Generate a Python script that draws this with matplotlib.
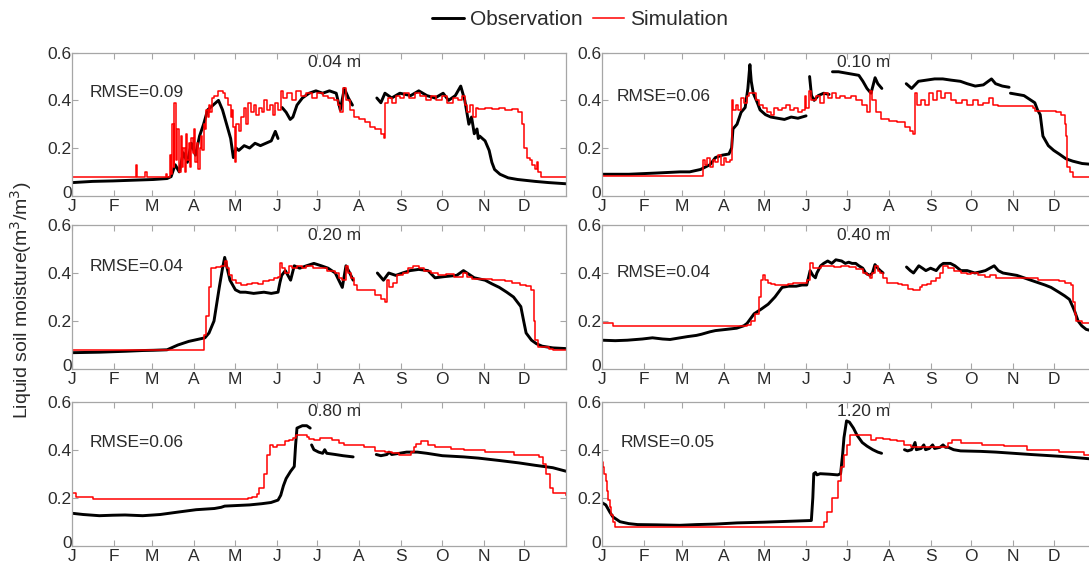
import numpy as np
import matplotlib.pyplot as plt
from matplotlib.transforms import ScaledTranslation

plt.rcParams['font.family'] = ['Liberation Sans', 'DejaVu Sans']

nan = np.nan

# x axis: day of year, ticks at month starts
month_starts = [0, 31, 59, 90, 120, 151, 181, 212, 243, 273, 304, 334]
month_labels = ['J', 'F', 'M', 'A', 'M', 'J', 'J', 'A', 'S', 'O', 'N', 'D']

depths = ['0.04 m', '0.10 m', '0.20 m', '0.40 m', '0.80 m', '1.20 m']
rmse = [0.09, 0.06, 0.04, 0.04, 0.06, 0.05]

# ---- 0.04 m ----
obs1_day = [0, 15, 30, 45, 60, 70, 73, 76, 79, 82, 85, 88, 91, 94, 97, 100, 104, 108, 111, 114,
            117, 119, 121, 123, 127, 131, 135, 139, 143, 147, 150, 152, 153,
            155, 158, 161, 163, 166, 170, 175, 180, 185, 190, 195, 198, 201, 204, 207, 208,
            225, 228, 231, 236, 242, 250, 256, 262, 268, 274, 278, 283, 287, 290, 293, 295,
            297, 299, 300, 301, 305, 308, 310, 312, 316, 322, 329, 342, 352, 365]
obs1_val = [0.055, 0.06, 0.062, 0.065, 0.068, 0.072, 0.08, 0.13, 0.1, 0.18, 0.14, 0.22, 0.17,
            0.25, 0.3, 0.36, 0.38, 0.40, 0.36, 0.3, 0.24, 0.16, 0.2, 0.19, 0.21, 0.2, 0.22, 0.21,
            0.22, 0.23, 0.27, 0.24, nan,
            0.37, 0.35, 0.32, 0.33, 0.38, 0.41, 0.43, 0.44, 0.43, 0.44, 0.43, 0.36, 0.45, 0.41,
            0.38, nan,
            0.41, 0.39, 0.43, 0.41, 0.43, 0.42, 0.44, 0.42, 0.41, 0.43, 0.40, 0.42, 0.46, 0.40,
            0.30, 0.33, 0.26, 0.28, 0.24, 0.25, 0.23, 0.19, 0.14, 0.11, 0.09, 0.075, 0.068,
            0.06, 0.055, 0.05]
sim1_day = [0, 47, 47.5, 54, 55, 69, 70, 72, 73, 74, 75, 75.5, 76.5, 77.5, 78.5, 80, 81, 82, 83,
            84, 85, 86, 87, 88, 89, 90, 91, 92, 93, 94, 95, 96, 97, 98, 99, 100, 101, 102, 103,
            105, 108, 111, 113, 115, 117, 118, 119, 120, 121, 123, 125, 127, 128, 130, 132, 134,
            136, 138, 140, 142, 144, 146, 148, 150, 152, 154, 156, 159, 162, 165, 169, 173, 177,
            181, 185, 189, 193, 196, 198, 200, 202, 205, 208, 212, 216, 220, 224, 228, 230, 231,
            233, 236, 239, 242, 245, 249, 253, 257, 261, 265, 269, 273, 277, 281, 285, 288, 290,
            292, 294, 296, 298, 300, 305, 310, 315, 320, 325, 329, 332, 334, 336, 338, 340, 342,
            343, 344, 346, 365]
sim1_val = [0.08, 0.13, 0.08, 0.1, 0.08, 0.09, 0.08, 0.17, 0.09, 0.3, 0.12, 0.39, 0.15, 0.28,
            0.1, 0.25, 0.12, 0.2, 0.1, 0.26, 0.15, 0.22, 0.12, 0.24, 0.18, 0.28, 0.14, 0.22,
            0.11, 0.2, 0.25, 0.19, 0.3, 0.28, 0.36, 0.33, 0.38, 0.35, 0.41, 0.42, 0.44, 0.43,
            0.41, 0.38, 0.33, 0.36, 0.29, 0.14, 0.3, 0.27, 0.33, 0.37, 0.3, 0.39, 0.35, 0.38,
            0.34, 0.37, 0.35, 0.4, 0.36, 0.38, 0.34, 0.39, 0.36, 0.44, 0.41, 0.43, 0.40, 0.44,
            0.42, 0.43, 0.41, 0.43, 0.42, 0.41, 0.40, 0.38, 0.35, 0.45, 0.40, 0.36, 0.33, 0.32,
            0.31, 0.29, 0.28, 0.26, 0.24, 0.39, 0.41, 0.39, 0.42, 0.41, 0.43, 0.41, 0.43, 0.42,
            0.40, 0.42, 0.40, 0.42, 0.39, 0.41, 0.40, 0.42, 0.38, 0.35, 0.38, 0.33, 0.37, 0.365,
            0.37, 0.365, 0.37, 0.36, 0.365, 0.35, 0.3, 0.2, 0.16, 0.15, 0.13, 0.11, 0.14, 0.1,
            0.08, 0.08]

# ---- 0.10 m ----
obs2_day = [0, 20, 40, 58, 65, 73, 80, 84, 89, 94, 96, 97, 100, 103, 106, 108, 109.5, 110.5,
            112, 115, 117, 121, 125, 130, 135, 140, 145, 151, 152,
            153.6, 155, 157, 160, 164, 168, 169.5,
            170.5, 175, 180, 185, 190, 193, 196, 199, 202, 204, 207, 210,
            225, 229, 234, 240, 246, 252, 258, 265, 270, 276, 282, 288, 291, 296, 301, 301.5,
            302, 307, 312, 316, 320, 322, 324, 326, 330, 334, 338, 343, 348, 355, 365]
obs2_val = [0.09, 0.09, 0.095, 0.1, 0.1, 0.11, 0.13, 0.16, 0.17, 0.175, 0.2, 0.28, 0.3, 0.35,
            0.37, 0.45, 0.55, 0.48, 0.43, 0.39, 0.36, 0.34, 0.33, 0.325, 0.32, 0.33, 0.325,
            0.335, nan,
            0.5, 0.42, 0.40, 0.42, 0.43, 0.425, nan,
            0.52, 0.52, 0.515, 0.51, 0.505, 0.48, 0.45, 0.43, 0.495, 0.47, 0.45, nan,
            0.47, 0.45, 0.48, 0.485, 0.49, 0.49, 0.485, 0.48, 0.47, 0.46, 0.465, 0.49, 0.47,
            0.46, 0.455, nan,
            0.43, 0.425, 0.42, 0.405, 0.39, 0.36, 0.34, 0.25, 0.21, 0.19, 0.175, 0.155, 0.145,
            0.135, 0.13]
sim2_day = [0, 74.5, 76, 78, 80, 82, 84, 86, 88, 90, 92, 95, 96, 97, 99, 101, 103, 105, 107,
            109, 112, 114, 116, 119, 122, 125, 127, 130, 133, 136, 139, 142, 145, 148, 150,
            151, 153, 155, 158, 161, 164, 167, 170, 173, 176, 180, 184, 188, 192, 196, 198,
            200, 203, 206, 212, 218, 224, 228, 230, 231.5, 233, 236, 239, 242, 245, 248, 251,
            254, 258, 262, 266, 270, 274, 278, 282, 286, 289, 293, 297, 319, 320, 336, 339,
            342, 343, 344, 346, 348, 365]
sim2_val = [0.083, 0.15, 0.13, 0.16, 0.12, 0.15, 0.14, 0.17, 0.13, 0.16, 0.14, 0.15, 0.4, 0.36,
            0.38, 0.36, 0.41, 0.39, 0.42, 0.43, 0.43, 0.4, 0.38, 0.37, 0.35, 0.34, 0.37, 0.36,
            0.37, 0.38, 0.36, 0.37, 0.35, 0.36, 0.42, 0.37, 0.44, 0.4, 0.42, 0.39, 0.43, 0.41,
            0.43, 0.41, 0.42, 0.41, 0.42, 0.40, 0.38, 0.35, 0.44, 0.40, 0.35, 0.32, 0.315, 0.31,
            0.29, 0.27, 0.26, 0.43, 0.38, 0.40, 0.38, 0.43, 0.40, 0.44, 0.41, 0.43, 0.40, 0.39,
            0.40, 0.38, 0.40, 0.38, 0.39, 0.41, 0.38, 0.375, 0.375, 0.37, 0.355, 0.35, 0.34,
            0.30, 0.25, 0.12, 0.1, 0.08, 0.08]

# ---- 0.20 m ----
obs3_day = [0, 20, 40, 52, 60, 70, 78, 86, 94, 98, 101, 104.7, 108.6, 111, 112.6, 114, 116.5,
            120.5, 124, 128, 134, 141.6, 147, 152, 153.4, 154.7, 157.4, 161.3, 164, 168, 173,
            178.5, 184, 189, 194.3, 199.5, 202.2, 205, 207.5, 210,
            225.4, 229.9, 233.8, 239, 244, 249.6, 256, 262.8, 268, 275, 284, 289, 293, 297,
            305, 310, 315.5, 321, 326, 331.4, 333.5, 335.3, 339.3, 343, 347.2, 355, 365]
obs3_val = [0.068, 0.07, 0.074, 0.077, 0.078, 0.08, 0.1, 0.115, 0.125, 0.13, 0.15, 0.2, 0.34,
            0.42, 0.465, 0.43, 0.37, 0.33, 0.32, 0.32, 0.315, 0.32, 0.315, 0.32, 0.36, 0.39,
            0.41, 0.37, 0.43, 0.42, 0.43, 0.44, 0.43, 0.42, 0.40, 0.34, 0.43, 0.40, 0.37, nan,
            0.40, 0.37, 0.40, 0.39, 0.40, 0.41, 0.415, 0.41, 0.38, 0.385, 0.39, 0.41, 0.395,
            0.38, 0.37, 0.355, 0.34, 0.32, 0.30, 0.26, 0.2, 0.15, 0.12, 0.105, 0.095, 0.088,
            0.085]
sim3_day = [0, 97, 99, 101, 102.5, 106, 110, 112.6, 114, 116, 118, 121, 125, 129, 133, 137,
            141, 145, 149, 152, 153.4, 155, 157.4, 160, 162.6, 166, 170, 173, 178, 183.7, 188,
            194.3, 197, 199.5, 202.2, 204, 206, 208, 210, 220, 224, 228, 231, 232.5, 234, 237,
            240, 244, 248, 252, 256, 260, 265, 270, 276, 282, 289, 292, 295, 310, 320, 325,
            331, 335, 339, 341, 342, 344, 352, 355, 365]
sim3_val = [0.08, 0.14, 0.22, 0.34, 0.42, 0.425, 0.43, 0.45, 0.42, 0.39, 0.37, 0.36, 0.35,
            0.355, 0.36, 0.355, 0.365, 0.37, 0.38, 0.385, 0.44, 0.42, 0.40, 0.43, 0.42, 0.43,
            0.42, 0.43, 0.42, 0.42, 0.41, 0.40, 0.38, 0.37, 0.43, 0.40, 0.38, 0.35, 0.33, 0.33,
            0.31, 0.29, 0.28, 0.37, 0.34, 0.36, 0.39, 0.40, 0.42, 0.43, 0.42, 0.41, 0.40, 0.39,
            0.395, 0.385, 0.40, 0.385, 0.375, 0.37, 0.365, 0.36, 0.35, 0.345, 0.33, 0.2, 0.12,
            0.09, 0.085, 0.08, 0.08]

# ---- 0.40 m ----
obs4_day = [0, 10, 19, 30, 37.5, 45, 50.5, 58, 63.4, 70, 73.8, 80, 84, 92, 99.7, 105, 107.4,
            110, 112.6, 118, 123, 128, 133.3, 138, 143.7, 148, 151.5, 154, 156, 157.9, 159,
            161.8, 164, 167, 170, 173, 177.3, 180, 182.5, 185, 187.7, 190, 192.9, 195, 198.1,
            200, 201.9, 204, 205.8, 207.9, 209,
            225.2, 228, 230.4, 234.3, 237, 239.5, 243, 247.2, 250, 252.4, 257.6, 261, 265.4,
            270, 275.7, 280, 283.5, 290, 293, 296.5, 301.6, 306.8, 312, 317.1, 322.3, 327.5,
            332, 337.8, 342, 345.6, 348, 349.5, 352, 354.7, 358, 365]
obs4_val = [0.12, 0.118, 0.12, 0.125, 0.13, 0.125, 0.123, 0.13, 0.135, 0.14, 0.145, 0.155,
            0.16, 0.165, 0.17, 0.18, 0.19, 0.21, 0.23, 0.25, 0.27, 0.3, 0.34, 0.345, 0.345,
            0.35, 0.35, 0.41, 0.39, 0.38, 0.4, 0.43, 0.44, 0.45, 0.44, 0.455, 0.45, 0.44,
            0.445, 0.44, 0.44, 0.43, 0.42, 0.40, 0.39, 0.40, 0.435, 0.42, 0.41, 0.40, nan,
            0.425, 0.41, 0.40, 0.43, 0.42, 0.41, 0.42, 0.41, 0.43, 0.44, 0.44, 0.43, 0.41,
            0.41, 0.40, 0.405, 0.41, 0.43, 0.41, 0.40, 0.395, 0.39, 0.38, 0.37, 0.36, 0.35,
            0.34, 0.32, 0.305, 0.29, 0.26, 0.24, 0.2, 0.18, 0.165, 0.155]
sim4_day = [0, 8, 107, 110, 113, 116, 118, 119.1, 121, 123, 125, 128.2, 133, 138, 141, 147,
            151.5, 154, 156, 159.1, 161.8, 167, 172, 177, 182.5, 187.7, 192.9, 196, 198.1,
            200, 201.9, 204, 205.8, 208, 211, 218.8, 222, 226.5, 230, 233, 235, 236.9, 240,
            243, 247.2, 250, 252.4, 256, 260.2, 265.4, 270, 273, 278.3, 283, 287, 291.3,
            296.5, 312, 322.3, 337.8, 342, 346.9, 348.2, 349.5, 350.8, 355, 365]
sim4_val = [0.19, 0.18, 0.185, 0.2, 0.23, 0.3, 0.37, 0.39, 0.37, 0.36, 0.355, 0.35, 0.35,
            0.355, 0.36, 0.36, 0.37, 0.44, 0.42, 0.42, 0.43, 0.43, 0.425, 0.43, 0.425, 0.415,
            0.40, 0.39, 0.38, 0.40, 0.43, 0.41, 0.40, 0.38, 0.36, 0.355, 0.35, 0.335, 0.33,
            0.33, 0.34, 0.35, 0.355, 0.365, 0.38, 0.40, 0.43, 0.42, 0.41, 0.40, 0.395, 0.40,
            0.39, 0.385, 0.39, 0.38, 0.38, 0.38, 0.37, 0.365, 0.36, 0.35, 0.28, 0.23, 0.20,
            0.19, 0.19]

# ---- 0.80 m ----
obs5_day = [0, 8, 20, 30, 39, 52, 60, 65, 78, 91.5, 105, 110, 112.6, 120, 131, 140, 146.8,
            152, 154, 156, 158, 161.3, 164, 165, 166, 170, 173.2, 175.8, 176.3,
            176.8, 178.5, 182, 185, 186.5, 188, 194.3, 200, 207.5, 209,
            224.6, 228, 232.5, 234, 236, 241.7, 247, 254.9, 262, 273.4, 289.2, 300, 315.5,
            330, 341.9, 355, 365]
obs5_val = [0.135, 0.13, 0.125, 0.127, 0.128, 0.125, 0.128, 0.13, 0.14, 0.15, 0.155, 0.16,
            0.165, 0.167, 0.17, 0.175, 0.18, 0.19, 0.21, 0.25, 0.28, 0.31, 0.33, 0.42, 0.49,
            0.50, 0.50, 0.49, nan,
            0.42, 0.40, 0.39, 0.385, 0.40, 0.385, 0.38, 0.375, 0.37, nan,
            0.38, 0.375, 0.38, 0.39, 0.38, 0.385, 0.39, 0.39, 0.385, 0.375, 0.37, 0.365,
            0.355, 0.345, 0.335, 0.325, 0.31]
sim5_day = [0, 3, 15, 129.7, 133, 136.3, 138, 141.6, 144.2, 146, 148, 151, 154.7, 157, 160,
            163, 165.3, 170, 173.2, 175, 178.5, 183, 189, 192, 196.9, 201, 210, 215.4, 223.3,
            231, 236, 241.7, 248, 250, 252.3, 254, 257.5, 262.8, 268, 273.4, 280, 289.2, 305,
            326, 344.5, 348, 350, 353, 355, 365]
sim5_val = [0.22, 0.205, 0.195, 0.2, 0.205, 0.215, 0.24, 0.3, 0.38, 0.42, 0.41, 0.42, 0.42,
            0.435, 0.44, 0.45, 0.46, 0.46, 0.455, 0.445, 0.44, 0.45, 0.45, 0.44, 0.43, 0.42,
            0.42, 0.41, 0.395, 0.39, 0.385, 0.38, 0.38, 0.39, 0.41, 0.425, 0.435, 0.42, 0.41,
            0.41, 0.405, 0.40, 0.39, 0.38, 0.37, 0.34, 0.3, 0.24, 0.22, 0.21]

# ---- 1.20 m ----
obs6_day = [0, 3, 6, 8.3, 13.5, 20, 26.5, 40, 57.6, 70, 83.6, 100, 120, 140, 154.9, 156,
            156.7, 158, 159, 161.4, 168, 174.4, 176.5, 178, 179, 180.9, 183, 184.8, 186,
            188.7, 192.5, 196, 200.3, 204, 206.8, 208,
            223.7, 226, 228.9, 230, 231.5, 232.5, 236, 238, 239.3, 242, 244.5, 246, 250,
            252.2, 254, 256.1, 260, 265.2, 280, 291.2, 317.1, 340, 365]
obs6_val = [0.18, 0.17, 0.14, 0.12, 0.1, 0.092, 0.088, 0.087, 0.085, 0.088, 0.09, 0.095,
            0.098, 0.102, 0.105, 0.2, 0.30, 0.305, 0.295, 0.30, 0.298, 0.295, 0.30, 0.38, 0.45,
            0.52, 0.515, 0.50, 0.49, 0.46, 0.43, 0.415, 0.40, 0.39, 0.385, nan,
            0.40, 0.395, 0.40, 0.41, 0.43, 0.40, 0.405, 0.42, 0.40, 0.405, 0.42, 0.405, 0.41,
            0.42, 0.41, 0.41, 0.40, 0.395, 0.393, 0.39, 0.38, 0.372, 0.36]
sim6_day = [0, 1, 2, 3, 4, 5, 6, 7, 8, 10, 161.4, 164, 166.6, 170, 174.4, 177, 179, 180.9,
            183.5, 196.4, 199, 202.9, 208.1, 213.3, 218, 223.7, 228.9, 239.3, 254.8, 256,
            258.7, 265.2, 280.8, 297, 314.5, 337.9, 356, 365]
sim6_val = [0.35, 0.33, 0.30, 0.27, 0.23, 0.19, 0.16, 0.13, 0.1, 0.08, 0.08, 0.1, 0.14, 0.2,
            0.27, 0.33, 0.38, 0.42, 0.46, 0.46, 0.44, 0.45, 0.445, 0.44, 0.435, 0.42, 0.41,
            0.41, 0.41, 0.43, 0.44, 0.43, 0.42, 0.415, 0.40, 0.39, 0.38, 0.37]

obs_days = [obs1_day, obs2_day, obs3_day, obs4_day, obs5_day, obs6_day]
obs_vals = [obs1_val, obs2_val, obs3_val, obs4_val, obs5_val, obs6_val]
sim_days = [sim1_day, sim2_day, sim3_day, sim4_day, sim5_day, sim6_day]
sim_vals = [sim1_val, sim2_val, sim3_val, sim4_val, sim5_val, sim6_val]

# RMSE label position (axes fraction) per panel
rmse_pos = [(0.035, 0.72), (0.03, 0.695), (0.035, 0.715), (0.03, 0.67), (0.035, 0.72), (0.038, 0.717)]

fig = plt.figure(figsize=(10.89, 5.67), dpi=100)

W, H = 1089.0, 567.0
lefts = [72.3, 601.7]
width = 494.0
rows = [(52.7, 195.7), (225.0, 369.0), (401.7, 545.7)]

spine_col = '#a6a6a6'
text_col = '#2b2b2b'

# lift the "0" y label a little so it sits above the first month label
lift = ScaledTranslation(0, 3 / 72.0, fig.dpi_scale_trans)

for i in range(6):
    r, c = divmod(i, 2)
    top, bot = rows[r]
    ax = fig.add_axes([lefts[c] / W, 1 - bot / H, width / W, (bot - top) / H])

    ax.plot(obs_days[i], obs_vals[i], color='black', lw=2.1, solid_capstyle='round',
            label='Observation')
    ax.plot(sim_days[i], sim_vals[i], color='red', lw=1.1, drawstyle='steps-post',
            label='Simulation')

    ax.set_xlim(0, 365)
    ax.set_ylim(0, 0.6)
    ax.set_xticks(month_starts)
    ax.set_xticklabels(month_labels)
    ax.set_yticks([0, 0.2, 0.4, 0.6])
    ax.set_yticklabels(['0', '0.2', '0.4', '0.6'])
    ax.tick_params(direction='in', length=4, width=0.8, color=spine_col,
                   labelsize=12.5, labelcolor=text_col, top=True, right=True)
    ax.tick_params(axis='x', pad=2.5)
    ax.tick_params(axis='y', pad=0.5)
    for s in ax.spines.values():
        s.set_color(spine_col)
        s.set_linewidth(0.9)
    zero_lab = ax.get_yticklabels()[0]
    zero_lab.set_transform(zero_lab.get_transform() + lift)

    ax.text(0.53, 0.93, depths[i], transform=ax.transAxes, ha='center', va='center',
            fontsize=12.5, color=text_col)
    ax.text(rmse_pos[i][0], rmse_pos[i][1], 'RMSE=%.2f' % rmse[i], transform=ax.transAxes,
            ha='left', va='center', fontsize=12.5, color=text_col)

    if i == 0:
        handles, labels = ax.get_legend_handles_labels()

fig.legend(handles, labels, loc='center', bbox_to_anchor=(0.533, 0.965), ncol=2,
           frameon=False, fontsize=15, handlelength=1.5, handletextpad=0.3,
           columnspacing=0.5, labelcolor=text_col)

fig.text(0.019, 0.47, 'Liquid soil moisture(m$^3$/m$^3$)', rotation=90, ha='center',
         va='center', fontsize=14, color=text_col)

fig.savefig('out.png', dpi=100)
